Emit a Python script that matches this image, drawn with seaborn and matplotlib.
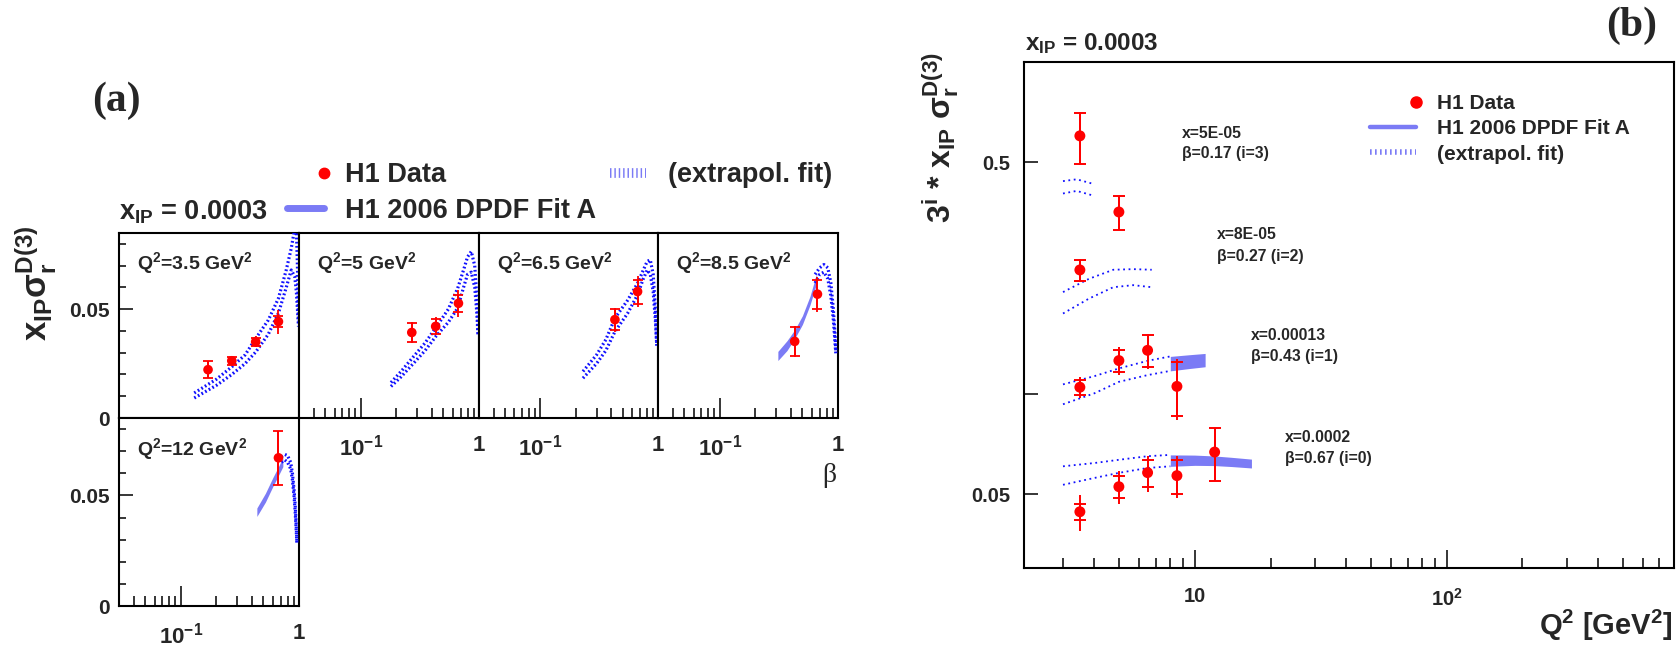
import numpy as np
import pandas as pd
import matplotlib
matplotlib.use("Agg")
import matplotlib.pyplot as plt
import seaborn as sns
from matplotlib.lines import Line2D
from matplotlib.legend_handler import HandlerLine2D
from matplotlib.ticker import FixedLocator, FixedFormatter, NullLocator, NullFormatter

# ---------------- data ----------------
Q2_bins = [3.5, 5, 6.5, 8.5, 12]
beta_bins = [0.17, 0.27, 0.43, 0.67]
xbj_labels = ["5E-05", "8E-05", "0.00013", "0.0002"]
scale_i = [3, 2, 1, 0]

# H1 data points (x_IP * sigma_r^D(3))
pt_q2 = [3.5, 3.5, 3.5, 3.5, 5, 5, 5, 6.5, 6.5, 8.5, 8.5, 12]
pt_beta = [0.17, 0.27, 0.43, 0.67, 0.27, 0.43, 0.67, 0.43, 0.67, 0.43, 0.67, 0.67]
pt_val = [0.0222, 0.0263, 0.0350, 0.0443, 0.0393, 0.0421, 0.0527, 0.0452, 0.0581, 0.0352, 0.0569, 0.0670]
pt_stat = [0.0039, 0.0019, 0.0019, 0.0024, 0.0045, 0.0033, 0.0040, 0.0049, 0.0055, 0.0065, 0.0067, 0.0121]
pt_tot = [0.0040, 0.0021, 0.0026, 0.0055, 0.0047, 0.0041, 0.0061, 0.0055, 0.0072, 0.0073, 0.0081, 0.0122]

# panel (a) curves vs beta: extrapolated fit (dotted band) and Fit A (solid band)
ex_beta = {
    3.5: [0.13, 0.2, 0.27, 0.35, 0.43, 0.55, 0.67, 0.78, 0.86, 0.92, 0.95, 0.97, 0.99],
    5:   [0.18, 0.22, 0.28, 0.35, 0.43, 0.55, 0.66, 0.74, 0.80, 0.86, 0.92, 0.96, 0.98],
    6.5: [0.23, 0.3, 0.36, 0.43, 0.55, 0.67, 0.75, 0.81, 0.86, 0.91, 0.95, 0.975],
    8.5: [0.64, 0.70, 0.76, 0.82, 0.87, 0.91, 0.94, 0.96],
    12:  [0.71, 0.76, 0.80, 0.85, 0.88, 0.91, 0.93, 0.95, 0.96],
}
ex_lo = {
    3.5: [0.0092, 0.0150, 0.0200, 0.0250, 0.0303, 0.0385, 0.0482, 0.0600, 0.0680, 0.0650, 0.0580, 0.0500, 0.0420],
    5:   [0.0145, 0.0190, 0.0252, 0.0310, 0.0374, 0.0440, 0.0505, 0.0600, 0.0660, 0.0670, 0.0600, 0.0480, 0.0380],
    6.5: [0.0183, 0.0250, 0.0310, 0.0397, 0.0480, 0.0566, 0.0640, 0.0680, 0.0660, 0.0580, 0.0450, 0.0340],
    8.5: [0.0620, 0.0660, 0.0670, 0.0640, 0.0560, 0.0460, 0.0360, 0.0290],
    12:  [0.0650, 0.0660, 0.0650, 0.0620, 0.0570, 0.0490, 0.0420, 0.0330, 0.0280],
}
ex_hi = {
    3.5: [0.0115, 0.0178, 0.0235, 0.0290, 0.0365, 0.0450, 0.0550, 0.0680, 0.0780, 0.0870, 0.0870, 0.0700, 0.0443],
    5:   [0.0163, 0.0215, 0.0283, 0.0345, 0.0414, 0.0500, 0.0596, 0.0680, 0.0740, 0.0765, 0.0700, 0.0550, 0.0390],
    6.5: [0.0214, 0.0290, 0.0360, 0.0459, 0.0540, 0.0619, 0.0680, 0.0720, 0.0726, 0.0660, 0.0500, 0.0330],
    8.5: [0.0660, 0.0690, 0.0705, 0.0690, 0.0620, 0.0510, 0.0400, 0.0300],
    12:  [0.0675, 0.0685, 0.0680, 0.0650, 0.0600, 0.0520, 0.0450, 0.0350, 0.0290],
}
fa_beta = {8.5: [0.31, 0.37, 0.43, 0.50, 0.58, 0.66], 12: [0.44, 0.52, 0.60, 0.67, 0.73]}
fa_lo = {8.5: [0.0264, 0.0310, 0.0365, 0.0430, 0.0520, 0.0620], 12: [0.0405, 0.0470, 0.0540, 0.0590, 0.0630]}
fa_hi = {8.5: [0.0306, 0.0355, 0.0405, 0.0470, 0.0560, 0.0665], 12: [0.0443, 0.0510, 0.0580, 0.0630, 0.0670]}

# panel (b) curves vs Q2 (already multiplied by 3^i)
b_ex_q2 = {3: [3.0, 3.4, 4.0], 2: [3.0, 3.8, 4.75, 5.7, 6.75], 1: [3.0, 4.0, 5.0, 6.5, 8.0], 0: [3.0, 4.0, 5.0, 6.5, 8.0]}
b_ex_hi = {3: [0.438, 0.4436, 0.4287], 2: [0.203, 0.2225, 0.237, 0.238, 0.237],
           1: [0.1071, 0.1134, 0.1196, 0.1261, 0.130], 0: [0.0607, 0.0621, 0.0635, 0.0651, 0.0657]}
b_ex_lo = {3: [0.402, 0.4093, 0.3953], 2: [0.175, 0.194, 0.210, 0.213, 0.210],
           1: [0.0933, 0.1007, 0.109, 0.1142, 0.1176], 0: [0.0534, 0.056, 0.058, 0.060, 0.0607]}
b_fa_q2 = {1: [8.0, 9.5, 11.0], 0: [8.0, 10.0, 12.0, 14.0, 16.8]}
b_fa_hi = {1: [0.130, 0.1315, 0.1327], 0: [0.0657, 0.0656, 0.0652, 0.0646, 0.0638]}
b_fa_lo = {1: [0.1176, 0.1195, 0.121], 0: [0.0607, 0.0611, 0.0610, 0.0606, 0.0600]}

pts = pd.DataFrame({"q2": pt_q2, "beta": pt_beta, "val": pt_val, "stat": pt_stat, "tot": pt_tot})
pts["i"] = [scale_i[beta_bins.index(b)] for b in pts["beta"]]
pts["fac"] = 3.0 ** pts["i"]

# ---------------- style ----------------
sns.set_theme(style="ticks")
plt.rcParams['font.family'] = ['Liberation Sans', 'DejaVu Sans']
plt.rcParams['font.weight'] = 'bold'
plt.rcParams['mathtext.fontset'] = 'custom'
for k in ['rm', 'it', 'bf', 'sf']:
    plt.rcParams['mathtext.' + k] = 'Liberation Sans:bold'
plt.rcParams['mathtext.default'] = 'rm'

RED = '#ff0000'
BLUE = '#1010ff'
BAND = '#7b7bf5'

W, H = 1676, 648
fig = plt.figure(figsize=(W / 100, H / 100), dpi=100)
fig.patch.set_facecolor('white')


def rect(x0, y0, x1, y1):
    return [x0 / W, 1 - y1 / H, (x1 - x0) / W, (y1 - y0) / H]


def fx(px):
    return px / W


def fy(py):
    return 1 - py / H


class RightMarker(HandlerLine2D):
    def create_artists(self, *args, **kwargs):
        arts = super().create_artists(*args, **kwargs)
        for a in arts:
            me = a.get_markevery()
            if me is not None and list(np.atleast_1d(me)) == [1]:
                a.set_markevery([2])
        return arts


# ---------------- panel (a) ----------------
cols = [119, 299, 479, 658, 838]
rows = [(233, 418), (418, 606)]
layout = {3.5: (0, 0), 5: (0, 1), 6.5: (0, 2), 8.5: (0, 3), 12: (1, 0)}

for q2 in Q2_bins:
    r, c = layout[q2]
    ax = fig.add_axes(rect(cols[c], rows[r][0], cols[c + 1], rows[r][1]))
    ax.set_facecolor('white')
    ax.set_xscale('log')
    if q2 in fa_beta:
        ax.fill_between(fa_beta[q2], fa_lo[q2], fa_hi[q2], color=BAND, lw=0, zorder=2)
    for arr in (ex_lo[q2], ex_hi[q2]):
        sns.lineplot(x=ex_beta[q2], y=arr, ax=ax, color=BLUE, lw=2.3,
                     linestyle=(0, (0.55, 0.75)), estimator=None, sort=False, zorder=3)
    d = pts[pts.q2 == q2]
    ax.errorbar(d.beta, d.val, yerr=d.tot, fmt='none', ecolor=RED, elinewidth=1.3, capsize=0, zorder=4)
    ax.errorbar(d.beta, d.val, yerr=d.stat, fmt='none', ecolor=RED, elinewidth=1.3, capsize=3.6,
                capthick=1.3, zorder=4)
    sns.scatterplot(data=d, x='beta', y='val', ax=ax, color=RED, s=48, edgecolor='none',
                    zorder=5, legend=False)
    ax.set_xlim(0.03, 1)
    ax.set_ylim(0, 0.085)
    ax.set_xlabel('')
    ax.set_ylabel('')
    ax.text(0.1, 0.835, "Q$^{2}$=%g GeV$^{2}$" % q2, transform=ax.transAxes, fontsize=14,
            ha='left', va='center')
    for s in ax.spines.values():
        s.set_visible(True)
        s.set_linewidth(1.5)
        s.set_color('black')
    if q2 == 3.5:
        ax.xaxis.set_major_locator(NullLocator())
        ax.xaxis.set_minor_locator(NullLocator())
    else:
        ax.xaxis.set_major_locator(FixedLocator([0.1, 1.0]))
        ax.xaxis.set_major_formatter(FixedFormatter(['$10^{-1}$', '1']))
        ax.xaxis.set_minor_locator(FixedLocator([0.04, 0.05, 0.06, 0.07, 0.08, 0.09,
                                                 0.2, 0.3, 0.4, 0.5, 0.6, 0.7, 0.8, 0.9]))
        ax.xaxis.set_minor_formatter(NullFormatter())
        ax.tick_params(axis='x', which='major', direction='in', length=14.4, width=1.1,
                       labelsize=16, pad=12, color='black')
        ax.tick_params(axis='x', which='minor', direction='in', length=7.2, width=1.1, color='black')
    if c == 0:
        ax.yaxis.set_major_locator(FixedLocator([0.0, 0.05]))
        ax.yaxis.set_major_formatter(FixedFormatter(['0', '0.05']))
        ax.yaxis.set_minor_locator(FixedLocator([0.01, 0.02, 0.03, 0.04, 0.06, 0.07, 0.08]))
        ax.tick_params(axis='y', which='major', direction='in', length=10, width=1.1,
                       labelsize=15, pad=7, color='black')
        ax.tick_params(axis='y', which='minor', direction='in', length=5, width=1.1, color='black')
    else:
        ax.yaxis.set_major_locator(NullLocator())
        ax.yaxis.set_minor_locator(NullLocator())

fig.text(fx(116), fy(101), "(a)", family='Liberation Serif', fontsize=30, weight='bold',
         ha='center', va='center')
fig.text(fx(119), fy(219), "x$_{IP}$ = 0.0003", fontsize=19.5, ha='left', va='baseline')
fig.text(fx(35), fy(283), r"$x_{IP}\sigma_{r}^{D(3)}$", fontsize=25, rotation=90,
         ha='center', va='center')
fig.text(fx(829), fy(476), "β", family='Liberation Serif', fontsize=20, weight='normal',
         ha='center', va='center')

h_data = Line2D([], [], ls='none', marker='o', color=RED, markersize=7.5)
h_fit = Line2D([], [], color=BAND, lw=5)
h_ext = Line2D([], [], color=BAND, lw=7, ls=(0, (0.15, 0.3)))
fig.legend(handles=[h_data, h_fit, h_ext],
           labels=['H1 Data', 'H1 2006 DPDF Fit A', '(extrapol. fit)'],
           ncol=2, loc='upper left', bbox_to_anchor=(fx(287), fy(162)), frameon=False,
           fontsize=19.5, handlelength=1.35, handletextpad=0.8, columnspacing=0.5,
           labelspacing=0.36, borderpad=0, borderaxespad=0,
           handler_map={h_data: RightMarker()})

# ---------------- panel (b) ----------------
axb = fig.add_axes(rect(1024, 62, 1674, 568))
axb.set_facecolor('white')
axb.set_xscale('log')
axb.set_yscale('log')
for i in scale_i:
    if i in b_fa_q2:
        axb.fill_between(b_fa_q2[i], b_fa_lo[i], b_fa_hi[i], color=BAND, lw=0, zorder=2)
    for arr in (b_ex_lo[i], b_ex_hi[i]):
        sns.lineplot(x=b_ex_q2[i], y=arr, ax=axb, color=BLUE, lw=1.3,
                     linestyle=(0, (1, 2)), estimator=None, sort=False, zorder=3)
bv = pts.val * pts.fac
axb.errorbar(pts.q2, bv, yerr=pts.tot * pts.fac, fmt='none', ecolor=RED, elinewidth=1.4,
             capsize=0, zorder=4)
axb.errorbar(pts.q2, bv, yerr=pts.stat * pts.fac, fmt='none', ecolor=RED, elinewidth=1.4,
             capsize=4.3, capthick=1.4, zorder=4)
sns.scatterplot(x=pts.q2, y=bv, ax=axb, color=RED, s=62, edgecolor='none', zorder=5, legend=False)
axb.set_xlim(2.1, 800)
axb.set_ylim(0.03, 1.0)
axb.set_xlabel('')
axb.set_ylabel('')
for s in axb.spines.values():
    s.set_visible(True)
    s.set_linewidth(1.5)
    s.set_color('black')
axb.xaxis.set_major_locator(FixedLocator([10, 100]))
axb.xaxis.set_major_formatter(FixedFormatter(['10', '$10^{2}$']))
axb.xaxis.set_minor_locator(FixedLocator([3, 4, 5, 6, 7, 8, 9, 20, 30, 40, 50, 60, 70, 80, 90,
                                          200, 300, 400, 500, 600, 700]))
axb.xaxis.set_minor_formatter(NullFormatter())
axb.yaxis.set_major_locator(FixedLocator([0.05, 0.1, 0.5]))
axb.yaxis.set_major_formatter(FixedFormatter(['0.05', '', '0.5']))
axb.yaxis.set_minor_locator(NullLocator())
axb.tick_params(axis='x', which='major', direction='in', length=13, width=1.1, labelsize=14.5,
                pad=14, color='black')
axb.tick_params(axis='x', which='minor', direction='in', length=7.2, width=1.1, color='black')
axb.tick_params(axis='y', which='major', direction='in', length=10, width=1.1, labelsize=14.5,
                pad=10, color='black')

ann_pos = {3: (1182, 133), 2: (1217, 235), 1: (1251, 335), 0: (1285, 437)}
for b, xl, i in zip(beta_bins, xbj_labels, scale_i):
    x0, y0 = ann_pos[i]
    fig.text(fx(x0), fy(y0), "x=%s" % xl, fontsize=11.3, ha='left', va='center')
    fig.text(fx(x0), fy(y0 + 21), "β=%.2f (i=%d)" % (b, i), fontsize=11.3, ha='left', va='center')

fig.text(fx(1632), fy(26), "(b)", family='Liberation Serif', fontsize=30, weight='bold',
         ha='center', va='center')
fig.text(fx(1025), fy(50), "x$_{IP}$ = 0.0003", fontsize=17.5, ha='left', va='baseline')
fig.text(fx(941), fy(138), r"$3^{i}$ * $x_{IP}$ $\sigma_{r}^{D(3)}$", fontsize=23, rotation=90,
         ha='center', va='center')
fig.text(fx(1673), fy(625), r"Q$^{2}$ [GeV$^{2}$]", fontsize=21, ha='right', va='center')

hb_data = Line2D([], [], ls='none', marker='o', color=RED, markersize=8)
hb_fit = Line2D([], [], color=BAND, lw=3.2)
hb_ext = Line2D([], [], color=BAND, lw=4, ls=(0, (0.3, 0.6)))
fig.legend(handles=[hb_data, hb_fit, hb_ext],
           labels=['H1 Data', 'H1 2006 DPDF Fit A', '(extrapol. fit)'],
           ncol=1, loc='upper left', bbox_to_anchor=(fx(1370), fy(94)), frameon=False,
           fontsize=15, handlelength=2.2, handletextpad=1.0, labelspacing=0.3,
           borderpad=0, borderaxespad=0, handler_map={hb_data: RightMarker()})

fig.savefig("out.png", dpi=100, facecolor='white')
